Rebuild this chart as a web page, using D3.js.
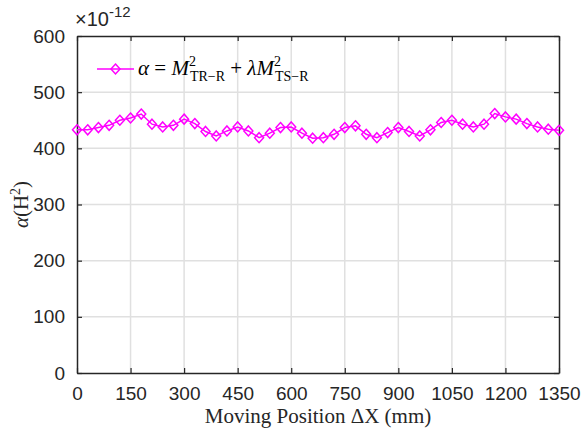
<!DOCTYPE html>
<html>
<head>
<meta charset="utf-8">
<script src="https://cdn.jsdelivr.net/npm/d3@7"></script>
<style>
  body { margin: 0; background: #fff; }
  svg { display: block; }
</style>
</head>
<body>
<div id="chart"></div>
<script>
// data (x in mm, alpha in 1e-12 H^2)
var positions = d3.range(0, 1351, 30);
var alphaVals = [433, 433, 437, 441, 450, 454, 461, 443, 438, 441,
                 452, 444, 430, 422, 431, 438, 431, 419, 427, 437,
                 438, 427, 418, 419, 425, 437, 440, 425, 419, 428,
                 437, 430, 422, 433, 446, 450, 443, 438, 443, 462,
                 456, 452, 444, 438, 434, 432];
var xTicks = [0, 150, 300, 450, 600, 750, 900, 1050, 1200, 1350];
var yTicks = [0, 100, 200, 300, 400, 500, 600];

var W = 583, H = 435;
var pL = 77, pR = 559, pT = 36, pB = 373;
var col = "#ff00ff";
var sans = "Liberation Sans, Arial, sans-serif";
var serif = "Liberation Serif, DejaVu Serif, serif";

var svg = d3.select("#chart").append("svg")
    .attr("width", W).attr("height", H);

var x = d3.scaleLinear().domain([0, 1350]).range([pL, pR]);
var y = d3.scaleLinear().domain([0, 600]).range([pB, pT]);

// grid
svg.append("g").selectAll("line").data(xTicks.slice(1, -1)).enter().append("line")
    .attr("x1", function(d) { return x(d); }).attr("x2", function(d) { return x(d); })
    .attr("y1", pT).attr("y2", pB)
    .attr("stroke", "#e0e0e0").attr("stroke-width", 1.5);
svg.append("g").selectAll("line").data(yTicks.slice(1, -1)).enter().append("line")
    .attr("x1", pL).attr("x2", pR)
    .attr("y1", function(d) { return y(d); }).attr("y2", function(d) { return y(d); })
    .attr("stroke", "#e0e0e0").attr("stroke-width", 1.5);

// axes, ticks pointing in
var xAxis = d3.axisBottom(x).tickValues(xTicks).tickFormat(d3.format("d"))
    .tickSizeInner(-5).tickSizeOuter(0).tickPadding(14);
var yAxis = d3.axisLeft(y).tickValues(yTicks).tickSizeInner(-5).tickSizeOuter(0).tickPadding(12);
var xTop = d3.axisTop(x).tickValues(xTicks).tickSizeInner(-5).tickSizeOuter(0).tickFormat("");
var yRight = d3.axisRight(y).tickValues(yTicks).tickSizeInner(-5).tickSizeOuter(0).tickFormat("");

svg.append("g").attr("transform", "translate(0," + pB + ")").call(xAxis);
svg.append("g").attr("transform", "translate(" + pL + ",0)").call(yAxis);
svg.append("g").attr("transform", "translate(0," + pT + ")").call(xTop);
svg.append("g").attr("transform", "translate(" + pR + ",0)").call(yRight);

svg.selectAll(".domain").attr("stroke", "#262626").attr("stroke-width", 1.5);
svg.selectAll(".tick line").attr("stroke", "#262626").attr("stroke-width", 1.2);
svg.selectAll(".tick text")
    .attr("font-family", sans)
    .attr("font-size", "19px").attr("fill", "#262626");

// exponent label
var ex = svg.append("text").attr("x", pL - 2).attr("y", 26)
    .attr("font-family", sans)
    .attr("font-size", "20px").attr("fill", "#262626");
ex.append("tspan").text("\u00d710");
ex.append("tspan").attr("dy", -9).attr("font-size", "15px").text("-12");

// series
var pts = positions.map(function(p, i) { return [p, alphaVals[i]]; });
svg.append("path").datum(pts)
    .attr("fill", "none").attr("stroke", col).attr("stroke-width", 1.5)
    .attr("d", d3.line().x(function(d) { return x(d[0]); }).y(function(d) { return y(d[1]); }));

function diamond(g, cx, cy) {
    g.append("path")
        .attr("d", "M" + cx + "," + (cy - 5) + "L" + (cx + 4.5) + "," + cy +
            "L" + cx + "," + (cy + 5) + "L" + (cx - 4.5) + "," + cy + "Z")
        .attr("fill", "none").attr("stroke", col).attr("stroke-width", 1.5);
}
var mk = svg.append("g");
pts.forEach(function(d) { diamond(mk, x(d[0]), y(d[1])); });

// legend
svg.append("line").attr("x1", 97).attr("x2", 134).attr("y1", 69).attr("y2", 69)
    .attr("stroke", col).attr("stroke-width", 1.5);
diamond(svg, 115.5, 69);
var lg = svg.append("text").attr("x", 138).attr("y", 75)
    .attr("font-family", serif)
    .attr("font-size", "21px").attr("fill", "#000");
lg.append("tspan").attr("font-style", "italic").text("\u03b1");
lg.append("tspan").text(" = ");
lg.append("tspan").attr("font-style", "italic").text("M");
lg.append("tspan").attr("dy", -9).attr("font-size", "14px").text("2");
lg.append("tspan").attr("dx", -6).attr("dy", 15).attr("font-size", "14px").text("TR\u2212R");
lg.append("tspan").attr("dy", -6).text(" + ");
lg.append("tspan").attr("font-style", "italic").text("\u03bbM");
lg.append("tspan").attr("dy", -9).attr("font-size", "14px").text("2");
lg.append("tspan").attr("dx", -6).attr("dy", 15).attr("font-size", "14px").text("TS\u2212R");

// axis titles
svg.append("text").attr("x", (pL + pR) / 2).attr("y", 423)
    .attr("text-anchor", "middle")
    .attr("font-family", serif)
    .attr("font-size", "21px").attr("fill", "#262626")
    .text("Moving Position \u0394X (mm)");

var yl = svg.append("text").attr("transform", "translate(28," + ((pT + pB) / 2) + ") rotate(-90)")
    .attr("text-anchor", "middle")
    .attr("font-family", serif)
    .attr("font-size", "21px").attr("fill", "#262626");
yl.append("tspan").attr("font-style", "italic").text("\u03b1");
yl.append("tspan").text("(H");
yl.append("tspan").attr("dy", -8).attr("font-size", "14px").text("2");
yl.append("tspan").attr("dy", 8).text(")");
</script>
</body>
</html>
